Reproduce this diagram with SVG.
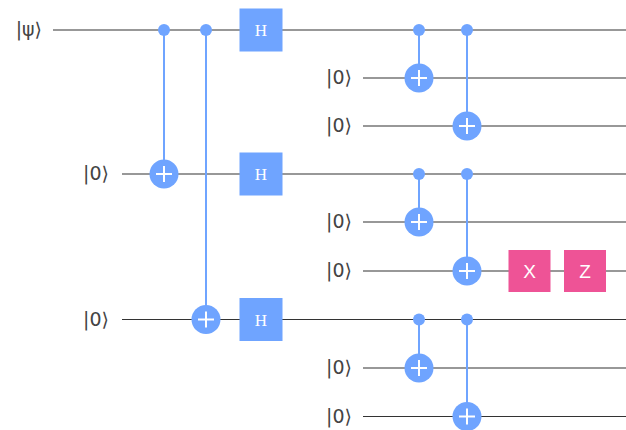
<svg xmlns="http://www.w3.org/2000/svg" width="626" height="430" viewBox="0 0 626 430">
<defs>
<style>
.wire{stroke:#333;stroke-width:1.2;fill:none}
.lbl{font-family:"DejaVu Sans","Liberation Sans",sans-serif;font-size:19px;fill:#444;text-anchor:end}
.ctl{stroke:#6FA4FF;stroke-width:2}
.dot{fill:#6FA4FF}
.tgt{fill:#6FA4FF}
.plus{stroke:#fff;stroke-width:2}
.h{fill:#6FA4FF}
.pk{fill:#EE5396}
.ht{font-family:"Liberation Serif","DejaVu Serif",serif;font-size:17px;fill:#fff;text-anchor:middle}
.gt{font-family:"Liberation Sans","DejaVu Sans",sans-serif;font-size:19px;fill:#fff;text-anchor:middle}
</style>
<g id="target">
<circle r="14.5" class="tgt"/>
<line x1="-8" y1="0" x2="8" y2="0" class="plus"/>
<line x1="0" y1="-8" x2="0" y2="8" class="plus"/>
</g>
</defs>
<rect width="626" height="430" fill="#fff"/>
<g id="wires">
<line class="wire" x1="53" y1="30" x2="626" y2="30"/>
<line class="wire" x1="363" y1="78" x2="626" y2="78"/>
<line class="wire" x1="363" y1="126" x2="626" y2="126"/>
<line class="wire" x1="122" y1="174" x2="626" y2="174"/>
<line class="wire" x1="363" y1="222" x2="626" y2="222"/>
<line class="wire" x1="363" y1="271" x2="626" y2="271"/>
<line class="wire" x1="122" y1="319.5" x2="626" y2="319.5"/>
<line class="wire" x1="363" y1="368" x2="626" y2="368"/>
<line class="wire" x1="363" y1="416.5" x2="626" y2="416.5"/>
</g>
<g id="labels">
<text class="lbl" x="42" y="36">|ψ⟩</text>
<text class="lbl" x="109" y="180">|0⟩</text>
<text class="lbl" x="109" y="325.5">|0⟩</text>
<text class="lbl" x="352" y="84">|0⟩</text>
<text class="lbl" x="352" y="132">|0⟩</text>
<text class="lbl" x="352" y="228">|0⟩</text>
<text class="lbl" x="352" y="277">|0⟩</text>
<text class="lbl" x="352" y="374">|0⟩</text>
<text class="lbl" x="352" y="422.5">|0⟩</text>
</g>
<g id="connectors">
<line class="ctl" x1="164" y1="30" x2="164" y2="174"/>
<line class="ctl" x1="206" y1="30" x2="206" y2="319.5"/>
<line class="ctl" x1="419" y1="30" x2="419" y2="78"/>
<line class="ctl" x1="467" y1="30" x2="467" y2="126"/>
<line class="ctl" x1="419" y1="174" x2="419" y2="222"/>
<line class="ctl" x1="467" y1="174" x2="467" y2="271"/>
<line class="ctl" x1="419" y1="319.5" x2="419" y2="368"/>
<line class="ctl" x1="467" y1="319.5" x2="467" y2="416.5"/>
</g>
<g id="cnot1"><circle class="dot" cx="164" cy="30" r="6"/><use href="#target" x="164" y="174"/></g>
<g id="cnot2"><circle class="dot" cx="206" cy="30" r="6"/><use href="#target" x="206" y="319.5"/></g>
<g id="h1"><rect class="h" x="239.5" y="8.5" width="43" height="43"/><text class="ht" x="261" y="36">H</text></g>
<g id="h2"><rect class="h" x="239.5" y="152.5" width="43" height="43"/><text class="ht" x="261" y="180">H</text></g>
<g id="h3"><rect class="h" x="239.5" y="298" width="43" height="43"/><text class="ht" x="261" y="325.5">H</text></g>
<g id="cnot3"><circle class="dot" cx="419" cy="30" r="6"/><use href="#target" x="419" y="78"/></g>
<g id="cnot4"><circle class="dot" cx="467" cy="30" r="6"/><use href="#target" x="467" y="126"/></g>
<g id="cnot5"><circle class="dot" cx="419" cy="174" r="6"/><use href="#target" x="419" y="222"/></g>
<g id="cnot6"><circle class="dot" cx="467" cy="174" r="6"/><use href="#target" x="467" y="271"/></g>
<g id="cnot7"><circle class="dot" cx="419" cy="319.5" r="6"/><use href="#target" x="419" y="368"/></g>
<g id="cnot8"><circle class="dot" cx="467" cy="319.5" r="6"/><use href="#target" x="467" y="416.5"/></g>
<g id="x"><rect class="pk" x="508.5" y="250" width="42" height="42"/><text class="gt" x="529.5" y="278">X</text></g>
<g id="z"><rect class="pk" x="564" y="250" width="42" height="42"/><text class="gt" x="585" y="278">Z</text></g>
</svg>
